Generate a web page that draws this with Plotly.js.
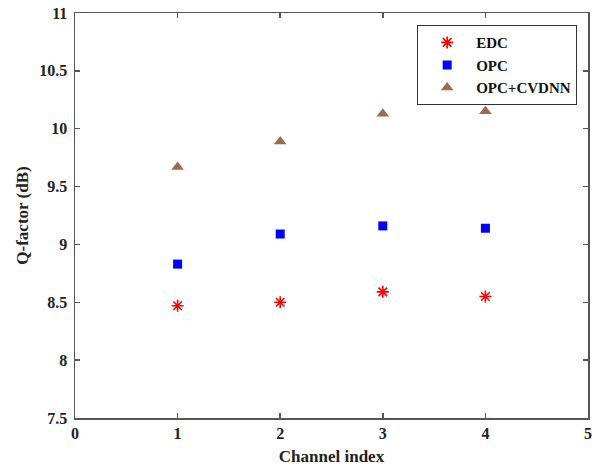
<!DOCTYPE html>
<html>
<head>
<meta charset="utf-8">
<script src="https://cdn.plot.ly/plotly-3.0.1.min.js"></script>
<style>html,body{margin:0;padding:0;background:#fff;}#chart{width:606px;height:470px;}</style>
</head>
<body>
<div id="chart"></div>
<script>
const channels = [1, 2, 3, 4];
const edc = [8.47, 8.50, 8.59, 8.55];
const opc = [8.83, 9.09, 9.16, 9.14];
const opcCvdnn = [9.67, 9.89, 10.13, 10.15];
const seriesNames = ['EDC', 'OPC', 'OPC+CVDNN'];
const xTicks = [0, 1, 2, 3, 4, 5];
const yTicks = [7.5, 8, 8.5, 9, 9.5, 10, 10.5, 11];

const fam = 'Liberation Serif, Times New Roman, serif';
const font = {family: fam, color: '#222', size: 16, weight: 'bold'};

const traces = [
  {x: channels, y: edc, name: seriesNames[0], mode: 'markers', type: 'scatter',
   marker: {symbol: 'asterisk-open', size: 10, color: '#ff0000', line: {color: '#ff0000', width: 1.6}}},
  {x: channels, y: opc, name: seriesNames[1], mode: 'markers', type: 'scatter',
   marker: {symbol: 'square', size: 9, color: '#0000ff'}},
  {x: channels, y: opcCvdnn, name: seriesNames[2], mode: 'markers', type: 'scatter',
   marker: {symbol: 'triangle-up', size: 11, color: '#a0694b'}}
];

const axisCommon = {
  showline: true, linecolor: '#555', linewidth: 1.5, mirror: 'ticks',
  ticks: 'inside', ticklen: 5, tickcolor: '#555', tickwidth: 1.5,
  showgrid: false, zeroline: false, tickfont: font
};

const layout = {
  width: 606, height: 470,
  margin: {l: 75, r: 18, t: 13, b: 52},
  paper_bgcolor: '#fff', plot_bgcolor: '#fff',
  font: font,
  showlegend: true,
  legend: {x: 0.667, y: 0.97, xanchor: 'left', yanchor: 'top',
    bgcolor: '#fff', bordercolor: '#333', borderwidth: 1,
    font: {family: fam, size: 15, color: '#111', weight: 'bold'},
    itemwidth: 48, tracegroupgap: 0},
  xaxis: Object.assign({}, axisCommon, {
    range: [0, 5], tickvals: xTicks, ticktext: xTicks.map(String),
    title: {text: 'Channel index', font: {family: fam, size: 17, color: '#222', weight: 'bold'}, standoff: 9}
  }),
  yaxis: Object.assign({}, axisCommon, {
    range: [7.5, 11], tickvals: yTicks, ticktext: yTicks.map(String),
    ticklabelstandoff: 3,
    title: {text: 'Q-factor (dB)', font: {family: fam, size: 17, color: '#222', weight: 'bold'}, standoff: 6}
  })
};

Plotly.newPlot('chart', traces, layout, {displayModeBar: false, staticPlot: true});
</script>
</body>
</html>
